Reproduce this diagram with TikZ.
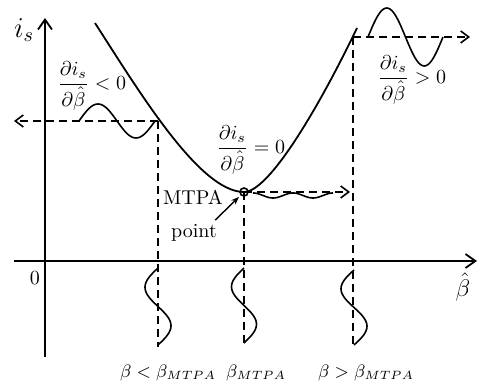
\documentclass[tikz,border=0pt]{standalone}
\usepackage{amsmath,amssymb}
\usepackage{tikz}
\usetikzlibrary{arrows.meta,positioning,calc}
\newcommand{\dib}{\dfrac{\partial i_s}{\partial\hat{\beta}}}
\tikzset{
  axisline/.style={line width=0.9pt, -{Straight Barb[length=5pt,width=7pt]}},
  curveline/.style={line width=0.9pt},
  guideline/.style={line width=0.8pt, dash pattern=on 4pt off 2.5pt},
  guidearrow/.style={guideline, -{Straight Barb[length=4pt,width=6pt]}},
  waveline/.style={line width=0.8pt},
  mathlabel/.style={inner sep=1pt, anchor=west},
  betalabel/.style={inner sep=1pt, font=\small}
}

\begin{document}
\begin{tikzpicture}[x=0.5pt,y=-0.5pt]
  \useasboundingbox (0,0) rectangle (478,385);

  % axes
  \coordinate (yBot) at (45,357);
  \coordinate (yTop) at (45,18);
  \coordinate (xLeft) at (14,261);
  \coordinate (xRight) at (477,261);
  \draw[axisline] (yBot) -- (yTop);
  \draw[axisline] (xLeft) -- (xRight);
  \node[inner sep=0pt] (islabel) at (24,30) {\Large $i_s$};
  \node[inner sep=0pt] (zero) at (35,278) {0};
  \node[inner sep=0pt] (bhat) at (463,287) {\large $\hat{\beta}$};

  % operating points on the curve
  \coordinate (pL) at (158,121);
  \coordinate (pM) at (244,192);
  \coordinate (pR) at (353,37);

  % i_s versus beta curve
  \draw[curveline] (95,23) .. controls (140,93) and (200,192) .. (pM)
    .. controls (270,192) and (322,101) .. (357,28);
  \draw[line width=0.8pt] (pM) circle[radius=4];

  % guide lines
  \coordinate (lEnd) at (14,121);
  \coordinate (lDown) at (158,347);
  \coordinate (mEnd) at (350,192);
  \coordinate (mDown) at (244,343);
  \coordinate (rEnd) at (470,37);
  \coordinate (rDown) at (353,347);
  \draw[guidearrow] (pL) -- (lEnd);
  \draw[guideline] (pL) -- (lDown);
  \draw[guidearrow] (pM) -- (mEnd);
  \draw[guideline] (pM) -- (mDown);
  \draw[guidearrow] (pR) -- (rEnd);
  \draw[guideline] (pR) -- (rDown);

  % oscillations
  \draw[waveline] plot[domain=0:360, samples=41, smooth] ({79+\x/360*76}, {121-17*sin(\x)});
  \draw[waveline] plot[domain=0:720, samples=61, smooth] ({253+\x/720*80}, {195.5-2.5*cos(\x)});
  \draw[waveline] plot[domain=0:360, samples=41, smooth] ({368+\x/360*75}, {37-29*sin(\x)});
  \draw[waveline] plot[domain=0:360, samples=41, smooth] ({158-13*sin(\x)}, {268+\x/360*77});
  \draw[waveline] plot[domain=0:360, samples=41, smooth] ({244-12.5*sin(\x)}, {268+\x/360*75});
  \draw[waveline] plot[domain=0:360, samples=41, smooth] ({354-13*sin(\x)}, {270+\x/360*75});

  % slope labels
  \node[mathlabel] (slopeneg) at (55,86) {$\dib<0$};
  \node[mathlabel] (slopezero) at (214,150) {$\dib=0$};
  \node[mathlabel] (slopepos) at (375,80) {$\dib>0$};

  % MTPA point
  \node[inner sep=1pt] (mtpa) at (193,197) {MTPA};
  \node[inner sep=1pt] (ptlabel) at (194,233) {point};
  \draw[line width=0.7pt, -{Stealth[length=4pt]}, shorten >=3.5pt]
    ($(ptlabel.north east)+(-4,-2)$) -- (pM);

  % beta labels
  \node[betalabel] (blow) at (168,373) {$\beta<\beta_{MTPA}$};
  \node[betalabel] (bopt) at (256,373) {$\beta_{MTPA}$};
  \node[betalabel] (bhigh) at (366,373) {$\beta>\beta_{MTPA}$};
\end{tikzpicture}
\end{document}
